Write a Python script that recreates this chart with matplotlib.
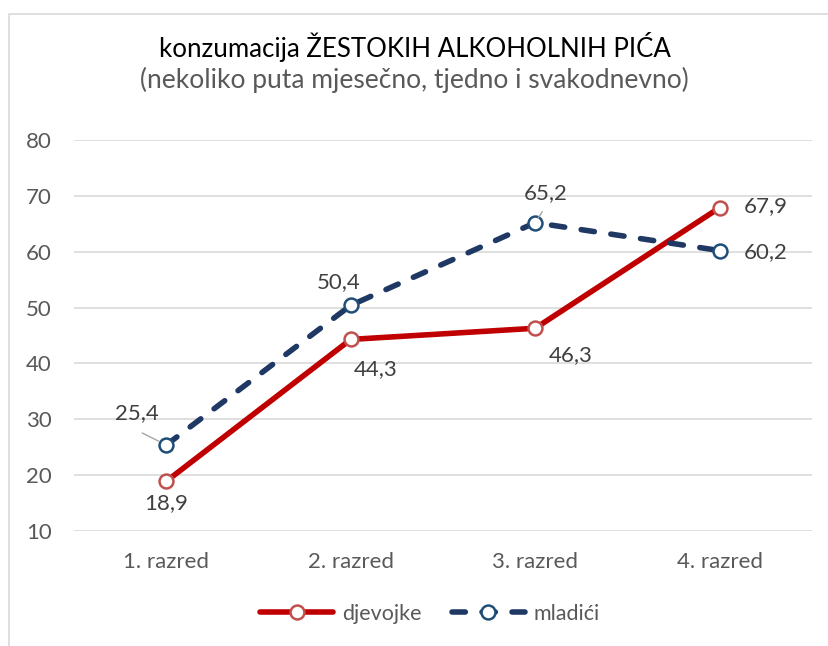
import matplotlib
matplotlib.use("Agg")
import matplotlib.pyplot as plt
from matplotlib.patches import Rectangle

categories = ["1. razred", "2. razred", "3. razred", "4. razred"]
djevojke = [18.9, 44.3, 46.3, 67.9]
mladici = [25.4, 50.4, 65.2, 60.2]
yticks = [10, 20, 30, 40, 50, 60, 70, 80]

plt.rcParams['font.family'] = ['Lato', 'DejaVu Sans']

fig = plt.figure(figsize=(8.29, 6.46), dpi=100)
ax = fig.add_axes([74/829, 1-531/646, (812-74)/829, (531-140)/646])

# chart border
fig.patches.append(Rectangle((9/829, -0.1), 1.0, 1 - 14/646 + 0.1, transform=fig.transFigure,
                             fill=False, edgecolor='#D9D9D9', linewidth=1.2))

x = list(range(len(categories)))
ax.plot(x, djevojke, color='#C00000', lw=4, solid_capstyle='round', zorder=3,
        marker='o', markersize=10, markerfacecolor='white', markeredgecolor='#C0504D',
        markeredgewidth=1.8, label='djevojke')
ax.plot(x, mladici, color='#1F3864', lw=4, linestyle=(0, (2.4, 3.0)), dash_capstyle='round', zorder=3,
        marker='o', markersize=10, markerfacecolor='white', markeredgecolor='#1F4E79',
        markeredgewidth=1.8, label='mladići')

ax.set_xlim(-0.5, 3.5)
ax.set_ylim(10, 80)
ax.set_yticks(yticks)
ax.set_xticks(x)
ax.set_xticklabels(categories)
ax.grid(axis='y', color='#D9D9D9', lw=1.2)
ax.set_axisbelow(True)
for s in ax.spines.values():
    s.set_visible(False)
ax.tick_params(length=0, labelsize=16, colors='#595959')
ax.tick_params(axis='x', pad=15)
ax.tick_params(axis='y', pad=16)

def fmt(v):
    return f"{v:.1f}".replace('.', ',')

lab_kw = dict(textcoords='offset pixels', fontsize=16, color='#404040', va='center')
# label offsets (pixels) and alignment
d_off = [(0, -22, 'center'), (25, -30, 'center'), (35, -27, 'center'), (24, 1, 'left')]
m_off = [(-29, 32, 'center'), (-12, 23, 'center'), (10, 30, 'center'), (24, -1, 'left')]
for i, v in enumerate(djevojke):
    dx, dy, ha = d_off[i]
    ax.annotate(fmt(v), (i, v), xytext=(dx, dy), ha=ha, zorder=4, **lab_kw)
for i, v in enumerate(mladici):
    dx, dy, ha = m_off[i]
    ax.annotate(fmt(v), (i, v), xytext=(dx, dy), ha=ha, zorder=4, **lab_kw)
# leader lines
ax.annotate('', (0, mladici[0]), xytext=(-24, 12), textcoords='offset pixels',
            arrowprops=dict(arrowstyle='-', color='#A6A6A6', lw=1, shrinkA=0, shrinkB=6))
ax.annotate('', (2, mladici[2]), xytext=(7, 11), textcoords='offset pixels',
            arrowprops=dict(arrowstyle='-', color='#A6A6A6', lw=1, shrinkA=0, shrinkB=4))

fig.text(0.5, 1-47/646, "konzumacija ŽESTOKIH ALKOHOLNIH PIĆA", ha='center', va='center',
         fontsize=18.6, color='#000000')
fig.text(0.5, 1-80/646, "(nekoliko puta mjesečno, tjedno i svakodnevno)", ha='center', va='center',
         fontsize=19, color='#595959')

leg = fig.legend(loc='center', bbox_to_anchor=(430/829, 1-614/646), ncol=2, frameon=False,
                 fontsize=15.5, handlelength=3.4, columnspacing=1.4, handletextpad=0.4)
for t in leg.get_texts():
    t.set_color('#595959')

fig.savefig('out.png', dpi=100)
